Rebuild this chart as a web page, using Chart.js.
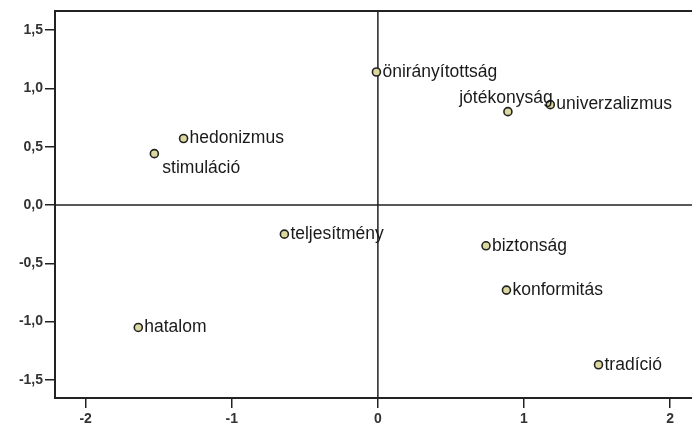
<!DOCTYPE html>
<html>
<head>
<meta charset="utf-8">
<script src="https://cdn.jsdelivr.net/npm/chart.js@4.4.1/dist/chart.umd.min.js"></script>
<style>
  html, body { margin: 0; padding: 0; overflow: hidden; background: #fff; }
  canvas { display: block; }
</style>
</head>
<body>
<canvas id="mdsChart" width="692" height="429"></canvas>
<script>
// értékek (dimenzió 1, dimenzió 2)
const nevek = ['önirányítottság', 'jótékonyság', 'univerzalizmus', 'hedonizmus', 'stimuláció',
               'teljesítmény', 'biztonság', 'konformitás', 'hatalom', 'tradíció'];
const dim1 = [-0.01, 0.89, 1.18, -1.33, -1.53, -0.64, 0.74, 0.88, -1.64, 1.51];
const dim2 = [1.14, 0.80, 0.86, 0.57, 0.44, -0.25, -0.35, -0.73, -1.05, -1.37];
const xTicks = [-2, -1, 0, 1, 2];
const yTicks = [-1.5, -1.0, -0.5, 0.0, 0.5, 1.0, 1.5];

const pontok = nevek.map((n, i) => ({ x: dim1[i], y: dim2[i], nev: n }));

// címke elhelyezés
const helyzet = { 'jótékonyság': 'above', 'stimuláció': 'below' };

const feliratok = {
    id: 'feliratok',
    afterDatasetsDraw(chart) {
        const { ctx } = chart;
        const meta = chart.getDatasetMeta(0);
        ctx.save();
        ctx.font = '17.5px "Liberation Sans", Arial, sans-serif';
        ctx.fillStyle = '#1a1a1a';
        meta.data.forEach((el, i) => {
            const n = pontok[i].nev;
            const h = helyzet[n] || 'right';
            ctx.textBaseline = 'middle';
            if (h === 'right') {
                ctx.textAlign = 'left';
                ctx.fillText(n, el.x + 6, el.y);
            } else if (h === 'above') {
                ctx.textAlign = 'center';
                ctx.fillText(n, el.x - 2, el.y - 13);
            } else {
                ctx.textAlign = 'left';
                ctx.fillText(n, el.x + 8, el.y + 15);
            }
        });
        ctx.restore();
    }
};

const nullvonalak = {
    id: 'nullvonalak',
    beforeDatasetsDraw(chart) {
        const { ctx, chartArea: a, scales: { x, y } } = chart;
        ctx.save();
        ctx.strokeStyle = '#222';
        ctx.lineWidth = 1.5;
        ctx.beginPath();
        const px = x.getPixelForValue(0);
        const py = y.getPixelForValue(0);
        ctx.moveTo(px, a.top);
        ctx.lineTo(px, a.bottom);
        ctx.moveTo(a.left, py);
        ctx.lineTo(a.right, py);
        ctx.stroke();
        ctx.restore();
    }
};

const tickFont = { family: '"Liberation Sans", Arial, sans-serif', size: 14, weight: 'bold' };

new Chart(document.getElementById('mdsChart'), {
    type: 'scatter',
    data: {
        datasets: [{
            data: pontok,
            backgroundColor: '#dcd8a0',
            borderColor: '#222',
            borderWidth: 1.6,
            pointRadius: 4,
            pointHoverRadius: 4
        }]
    },
    options: {
        responsive: false,
        animation: false,
        layout: { padding: 0, autoPadding: false },
        plugins: {
            legend: { display: false },
            tooltip: { enabled: false }
        },
        scales: {
            x: {
                type: 'linear',
                position: 'bottom',
                min: -2.21,
                max: 2.15,
                afterBuildTicks: s => { s.ticks = xTicks.map(v => ({ value: v })); },
                afterFit: s => { s.height = 31; s.paddingLeft = 0; s.paddingRight = 0; },
                ticks: {
                    font: tickFont,
                    color: '#333',
                    padding: 3,
                    callback: v => String(v)
                },
                grid: { drawOnChartArea: false, drawTicks: true, tickLength: 10, color: '#222', lineWidth: 1.5 },
                border: { display: true, color: '#222', width: 2 }
            },
            x2: {
                type: 'linear',
                position: 'top',
                min: -2.21,
                max: 2.15,
                afterFit: s => { s.height = 11; s.paddingLeft = 0; s.paddingRight = 0; },
                ticks: { display: false },
                grid: { display: false },
                border: { display: true, color: '#222', width: 2 }
            },
            y: {
                type: 'linear',
                min: -1.655,
                max: 1.663,
                afterBuildTicks: s => { s.ticks = yTicks.map(v => ({ value: v })); },
                afterFit: s => { s.width = 55; },
                ticks: {
                    font: tickFont,
                    color: '#333',
                    padding: 2,
                    callback: v => v.toFixed(1).replace('.', ',')
                },
                grid: { drawOnChartArea: false, drawTicks: true, tickLength: 10, color: '#222', lineWidth: 1.5 },
                border: { display: true, color: '#222', width: 2 }
            }
        }
    },
    plugins: [nullvonalak, feliratok]
});
</script>
</body>
</html>
